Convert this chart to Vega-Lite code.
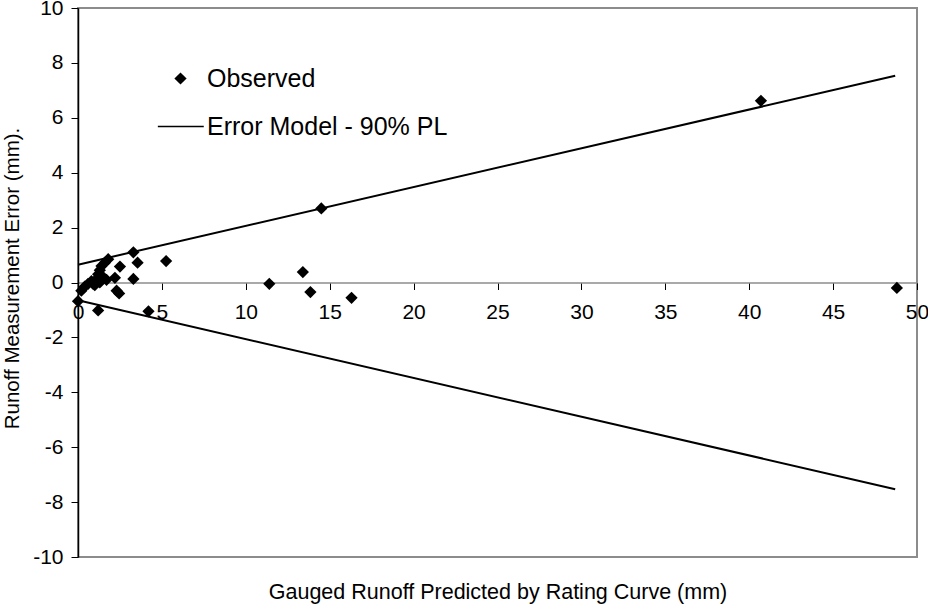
{
  "$schema": "https://vega.github.io/schema/vega-lite/v6.json",
  "width": 839,
  "height": 549,
  "autosize": {"type": "none"},
  "padding": {"left": 78, "top": 8, "right": 11, "bottom": 49},
  "background": "white",
  "config": {
    "font": "Liberation Sans",
    "view": {"stroke": "#8c8c8c", "strokeWidth": 2}
  },
  "datasets": {
    "obs": [
      {"x": 40.7, "y": 6.62, "series": "Observed"},
      {"x": 14.5, "y": 2.7, "series": "Observed"},
      {"x": 48.8, "y": -0.2, "series": "Observed"},
      {"x": 13.4, "y": 0.38, "series": "Observed"},
      {"x": 13.85, "y": -0.35, "series": "Observed"},
      {"x": 16.3, "y": -0.56, "series": "Observed"},
      {"x": 11.4, "y": -0.05, "series": "Observed"},
      {"x": 5.25, "y": 0.78, "series": "Observed"},
      {"x": 4.2, "y": -1.05, "series": "Observed"},
      {"x": 1.2, "y": -1.02, "series": "Observed"},
      {"x": 0.0, "y": -0.68, "series": "Observed"},
      {"x": 3.3, "y": 1.1, "series": "Observed"},
      {"x": 3.55, "y": 0.72, "series": "Observed"},
      {"x": 3.3, "y": 0.13, "series": "Observed"},
      {"x": 2.5, "y": 0.58, "series": "Observed"},
      {"x": 2.3, "y": -0.3, "series": "Observed"},
      {"x": 2.45, "y": -0.4, "series": "Observed"},
      {"x": 2.2, "y": 0.17, "series": "Observed"},
      {"x": 0.2, "y": -0.3, "series": "Observed"},
      {"x": 0.4, "y": -0.15, "series": "Observed"},
      {"x": 0.6, "y": -0.05, "series": "Observed"},
      {"x": 0.8, "y": 0.05, "series": "Observed"},
      {"x": 1.0, "y": -0.1, "series": "Observed"},
      {"x": 1.1, "y": 0.12, "series": "Observed"},
      {"x": 1.2, "y": 0.3, "series": "Observed"},
      {"x": 1.3, "y": 0.45, "series": "Observed"},
      {"x": 1.4, "y": 0.6, "series": "Observed"},
      {"x": 1.6, "y": 0.72, "series": "Observed"},
      {"x": 1.8, "y": 0.85, "series": "Observed"},
      {"x": 1.5, "y": 0.2, "series": "Observed"},
      {"x": 1.7, "y": 0.1, "series": "Observed"},
      {"x": 1.3, "y": 0.0, "series": "Observed"},
      {"x": 0.9, "y": -0.05, "series": "Observed"}
    ],
    "model": [
      {"x": 0.0, "y": 0.65, "bound": "upper"},
      {"x": 48.7, "y": 7.53, "bound": "upper"},
      {"x": 0.0, "y": -0.65, "bound": "lower"},
      {"x": 48.7, "y": -7.53, "bound": "lower"}
    ]
  },
  "encoding": {
    "x": {
      "field": "x",
      "type": "quantitative",
      "scale": {"domain": [0, 50], "nice": false, "zero": false},
      "axis": {
        "title": "Gauged Runoff Predicted by Rating Curve (mm)",
        "values": [0, 5, 10, 15, 20, 25, 30, 35, 40, 45, 50],
        "offset": -274.5,
        "domainColor": "#8c8c8c",
        "domainWidth": 1.5,
        "tickColor": "#000000",
        "tickSize": 7,
        "labelFontSize": 21,
        "labelColor": "#000000",
        "labelPadding": 12,
        "labelFlush": false,
        "labelExpr": "replace(datum.label, '\u2212', '-')",
        "grid": false,
        "titleFontSize": 21.5,
        "titleFontWeight": "normal",
        "titleColor": "#000000",
        "titleY": 310,
        "titleBaseline": "middle"
      }
    },
    "y": {
      "field": "y",
      "type": "quantitative",
      "scale": {"domain": [-10, 10], "nice": false, "zero": false},
      "axis": {
        "title": "Runoff Measurement Error (mm).",
        "values": [-10, -8, -6, -4, -2, 0, 2, 4, 6, 8, 10],
        "domainColor": "#000000",
        "domainWidth": 1.5,
        "tickColor": "#000000",
        "tickSize": 7,
        "labelFontSize": 21,
        "labelColor": "#000000",
        "labelPadding": 8,
        "labelFlush": false,
        "labelExpr": "replace(datum.label, '\u2212', '-')",
        "grid": false,
        "titleFontSize": 20.5,
        "titleFontWeight": "normal",
        "titleColor": "#000000",
        "titleX": -66,
        "titleY": 270,
        "titleBaseline": "middle"
      }
    }
  },
  "layer": [
    {
      "data": {"name": "model"},
      "mark": {"type": "line", "color": "#000000", "strokeWidth": 2},
      "encoding": {"detail": {"field": "bound", "type": "nominal"}}
    },
    {
      "data": {"name": "obs"},
      "mark": {"type": "point", "filled": true, "color": "#000000", "size": 150, "opacity": 1},
      "encoding": {
        "shape": {
          "field": "series",
          "type": "nominal",
          "scale": {
            "domain": ["Observed", "Error Model - 90% PL"],
            "range": ["diamond", "M-3.7,-0.13L3.8,-0.13L3.8,0.13L-3.7,0.13Z"]
          },
          "legend": {
            "title": null,
            "orient": "none",
            "legendX": 90,
            "legendY": 58,
            "labelFontSize": 25,
            "labelColor": "#000000",
            "labelOffset": 14,
            "labelLimit": 0,
            "rowPadding": 22,
            "symbolSize": 150,
            "symbolFillColor": "#000000",
            "symbolStrokeWidth": 0,
            "symbolOpacity": 1,
            "padding": 0
          }
        }
      }
    }
  ]
}
